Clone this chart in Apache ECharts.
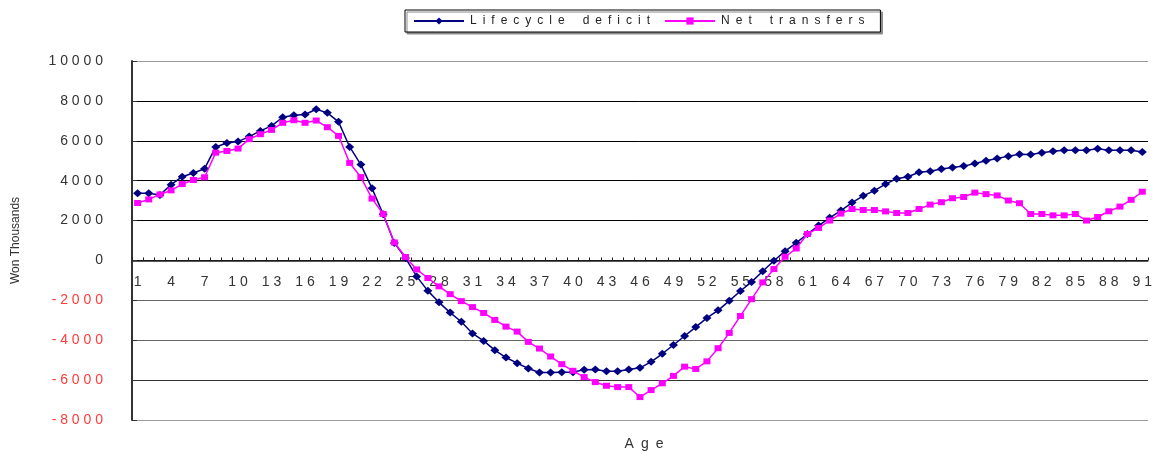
<!DOCTYPE html>
<html>
<head>
<meta charset="utf-8">
<script src="https://cdn.jsdelivr.net/npm/echarts@6/dist/echarts.min.js"></script>
<style>
  html, body { margin: 0; padding: 0; background: #fff; }
  #chart { width: 1155px; height: 452px; }
</style>
</head>
<body>
<div id="chart"></div>
<script>
// Ages 1..91
const ages = Array.from({ length: 91 }, (_, i) => String(i + 1));

// Lifecycle deficit, won thousands
const lifecycleDeficit = [
  3370, 3370, 3280, 3800, 4200, 4385, 4600, 5690, 5890, 5960,
  6210, 6495, 6745, 7180, 7280, 7315, 7580, 7400, 6950, 5690,
  4805, 3615, 2317, 880, 117, -800, -1525, -2100, -2615, -3075,
  -3660, -4033, -4500, -4867, -5150, -5417, -5617, -5617, -5600, -5600,
  -5483, -5467, -5550, -5550, -5467, -5383, -5083, -4680, -4240, -3790,
  -3340, -2883, -2500, -2025, -1533, -1075, -540, -17, 467, 885,
  1325, 1747, 2135, 2500, 2900, 3240, 3500, 3830, 4100, 4200,
  4420, 4470, 4590, 4660, 4730, 4860, 4995, 5115, 5230, 5330,
  5315, 5400, 5470, 5520, 5520, 5520, 5600, 5520, 5520, 5520,
  5435
];

// Net transfers, won thousands
const netTransfers = [
  2880, 3060, 3310, 3515, 3830, 4035, 4170, 5405, 5490, 5610,
  6080, 6330, 6545, 6900, 7030, 6900, 7015, 6680, 6245, 4890,
  4180, 3100, 2330, 900, 175, -450, -880, -1300, -1690, -2040,
  -2340, -2633, -2983, -3317, -3567, -4083, -4417, -4817, -5200, -5533,
  -5850, -6100, -6283, -6350, -6350, -6850, -6500, -6160, -5790, -5325,
  -5440, -5060, -4400, -3633, -2783, -1940, -1100, -433, 183, 600,
  1325, 1630, 2000, 2350, 2580, 2530, 2530, 2460, 2380, 2380,
  2580, 2800, 2920, 3120, 3180, 3400, 3325, 3260, 3005, 2870,
  2330, 2330, 2260, 2260, 2330, 2000, 2180, 2465, 2700, 3040,
  3445
];

const seriesNames = ['Lifecycle deficit', 'Net transfers'];
const yTitle = 'Won Thousands';
const xTitle = 'Age';

const Y_MIN = -8000;
const Y_MAX = 10000;

// wide letter spacing, as in the original typography
const spaced = (s, gap) => String(s).split(' ')
  .map(w => w.split('').join(gap)).join(gap + gap + gap);

const FONT = 'Liberation Sans';
const GRID = { left: 132, top: 61, width: 1024, height: 359 };
// the category axis runs along the zero line of the value axis
const zeroOffset = -GRID.height * (0 - Y_MIN) / (Y_MAX - Y_MIN);

const chart = echarts.init(document.getElementById('chart'));

chart.setOption({
  animation: false,
  backgroundColor: '#fff',
  textStyle: { fontFamily: FONT },
  legend: {
    left: 405,
    top: 10,
    padding: [5, 16, 5, 8],
    itemGap: 14,
    itemWidth: 50,
    itemHeight: 9,
    backgroundColor: '#fff',
    borderColor: '#000',
    borderWidth: 1,
    borderRadius: 0,
    shadowColor: '#8a8a8a',
    shadowBlur: 0,
    shadowOffsetX: 2,
    shadowOffsetY: 2,
    textStyle: { fontSize: 12, color: '#222', fontFamily: FONT, padding: [0, 0, 0, 1] },
    formatter: name => spaced(name, '\u2002'),
    data: seriesNames
  },
  // x axis title, centred under the plot area
  graphic: [{
    type: 'text',
    x: GRID.left + GRID.width / 2,
    y: 437,
    style: {
      text: spaced(xTitle, '\u2002'),
      font: '14px "' + FONT + '"',
      fill: '#333',
      align: 'center'
    }
  }],
  grid: GRID,
  xAxis: {
    type: 'category',
    data: ages,
    boundaryGap: true,
    position: 'bottom',
    offset: zeroOffset,
    axisLine: { onZero: false, lineStyle: { color: '#222', width: 1.5 } },
    axisTick: { show: true, inside: true, length: 3, interval: 0, lineStyle: { color: '#222' } },
    axisLabel: {
      interval: 2,
      margin: 15,
      fontSize: 14,
      color: '#333',
      fontFamily: FONT,
      formatter: v => spaced(v, ' ')
    },
    splitLine: { show: false }
  },
  yAxis: {
    type: 'value',
    min: Y_MIN,
    max: Y_MAX,
    interval: 2000,
    name: yTitle,
    nameLocation: 'middle',
    nameGap: 110,
    nameTextStyle: { fontSize: 12, color: '#333', fontFamily: FONT },
    axisLine: { show: true, lineStyle: { color: '#333', width: 2 } },
    axisTick: { show: true, inside: true, length: 5, lineStyle: { color: '#333' } },
    axisLabel: {
      margin: 29,
      fontSize: 14,
      fontFamily: FONT,
      color: v => (Number(v) < 0 ? '#ff3b3b' : '#333'),
      formatter: v => spaced(v, ' ')
    },
    splitLine: {
      show: true,
      lineStyle: {
        width: 1,
        color: ['#9a9a9a', '#333', '#666', '#666', '#000', '#000', '#000', '#000', '#000', '#9a9a9a']
      }
    }
  },
  series: [
    {
      name: seriesNames[0],
      type: 'line',
      data: lifecycleDeficit,
      symbol: 'diamond',
      symbolSize: [9, 8],
      showAllSymbol: true,
      lineStyle: { color: '#000080', width: 1.5 },
      itemStyle: { color: '#000080' },
      z: 3
    },
    {
      name: seriesNames[1],
      type: 'line',
      data: netTransfers,
      symbol: 'rect',
      symbolSize: [7, 6],
      showAllSymbol: true,
      lineStyle: { color: '#ff00ff', width: 1.5 },
      itemStyle: { color: '#ff00ff' },
      z: 4
    }
  ]
});
</script>
</body>
</html>
